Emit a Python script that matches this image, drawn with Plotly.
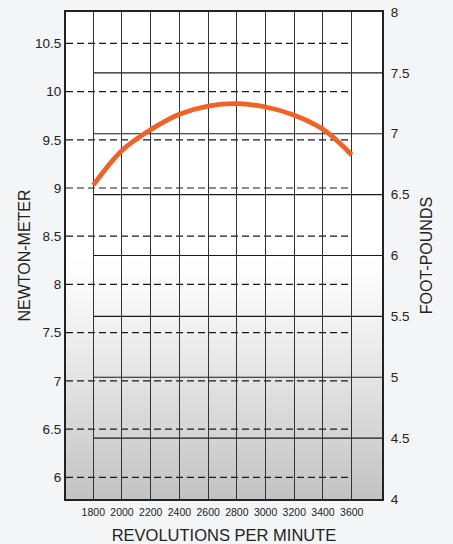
import plotly.graph_objects as go

# ---- data ----
rpm = [1800, 2000, 2200, 2400, 2600, 2800, 3000, 3200, 3400, 3600]
torque_nm = [9.03, 9.39, 9.605, 9.765, 9.85, 9.875, 9.84, 9.755, 9.608, 9.342]

x_ticks = [1800, 2000, 2200, 2400, 2600, 2800, 3000, 3200, 3400, 3600]
nm_ticks = [6, 6.5, 7, 7.5, 8, 8.5, 9, 9.5, 10, 10.5]
ftlb_ticks = [4, 4.5, 5, 5.5, 6, 6.5, 7, 7.5, 8]

X_RANGE = [1610, 3811]
NM_RANGE = [5.775, 10.825]
FTLB_RANGE = [4.0, 8.0]

FONT = "Liberation Sans, Arial, sans-serif"
INK = "#222222"
PAGE_BG = "#f4f5f7"

fig = go.Figure()

fig.add_trace(go.Scatter(
    x=rpm, y=torque_nm, mode="lines",
    line=dict(color="#f26125", width=4.8, shape="spline", smoothing=1.0),
    hoverinfo="skip", showlegend=False,
))
# invisible trace to activate the right axis
fig.add_trace(go.Scatter(x=[X_RANGE[0]], y=[FTLB_RANGE[0]], yaxis="y2",
                         mode="markers", marker=dict(opacity=0),
                         hoverinfo="skip", showlegend=False))

shapes = []
# background gradient (white in upper half to gray at bottom)
n = 60
top = 0.50
for i in range(n):
    y0 = top * i / n
    y1 = top * (i + 1) / n
    t = 1 - (i + 0.5) / n  # 1 at bottom, 0 at top
    g = int(round(255 - (255 - 194) * (t ** 1.15)))
    shapes.append(dict(type="rect", xref="x domain", yref="y domain",
                       x0=0, x1=1, y0=y0, y1=y1 + 0.002, layer="below",
                       line=dict(width=0),
                       fillcolor=f"rgb({g},{g},{g})"))
# dashed Newton-meter lines: from left edge to last rpm tick
for v in nm_ticks:
    shapes.append(dict(type="line", xref="x", yref="y",
                       x0=X_RANGE[0], x1=x_ticks[-1], y0=v, y1=v,
                       layer="below",
                       line=dict(color="#1a1a1a", width=1.2, dash="7px,4px")))
# solid foot-pound lines: from first rpm tick to right edge
for v in ftlb_ticks[1:-1]:
    shapes.append(dict(type="line", xref="x", yref="y2",
                       x0=x_ticks[0], x1=X_RANGE[1], y0=v, y1=v,
                       layer="below",
                       line=dict(color="#1a1a1a", width=1.2)))

fig.update_layout(
    width=453, height=544,
    margin=dict(l=66, r=71, t=12, b=45, autoexpand=False),
    paper_bgcolor=PAGE_BG,
    plot_bgcolor="#ffffff",
    font=dict(family=FONT, color=INK),
    shapes=shapes,
    xaxis=dict(
        range=X_RANGE, tickvals=x_ticks,
        ticktext=[str(v) for v in x_ticks],
        tickfont=dict(size=10.5, family=FONT, color=INK),
        showgrid=True, gridcolor="#333333", gridwidth=1.3,
        showline=True, linecolor=INK, linewidth=2, mirror=True,
        ticks="", zeroline=False, automargin=False,
        ticklabelstandoff=2,
        title=dict(text="REVOLUTIONS PER MINUTE", standoff=13,
                   font=dict(size=16.5, family=FONT, color=INK)),
    ),
    yaxis=dict(
        range=NM_RANGE, tickvals=nm_ticks,
        ticktext=[f"{v:g}" for v in nm_ticks],
        tickfont=dict(size=13.5, family=FONT, color=INK),
        showgrid=False, zeroline=False, automargin=False,
        showline=True, linecolor=INK, linewidth=2,
        ticks="", ticklabelstandoff=0,
        title=dict(text="NEWTON-METER", standoff=0,
                   font=dict(size=16, family=FONT, color=INK)),
    ),
    yaxis2=dict(
        range=FTLB_RANGE, tickvals=ftlb_ticks,
        ticktext=[f"{v:g}" for v in ftlb_ticks],
        tickfont=dict(size=13.5, family=FONT, color=INK),
        overlaying="y", side="right",
        showgrid=False, zeroline=False, automargin=False,
        showline=True, linecolor=INK, linewidth=2,
        ticks="", ticklabelstandoff=4,
        title=dict(text="FOOT-POUNDS", standoff=12,
                   font=dict(size=16, family=FONT, color=INK)),
    ),
)

fig.write_html(
    "out.html",
    config={"displayModeBar": False},
    post_script=(
        "document.body.style.margin='0';"
        "document.body.style.overflow='hidden';"
        f"document.body.style.background='{PAGE_BG}';"
    ),
)
